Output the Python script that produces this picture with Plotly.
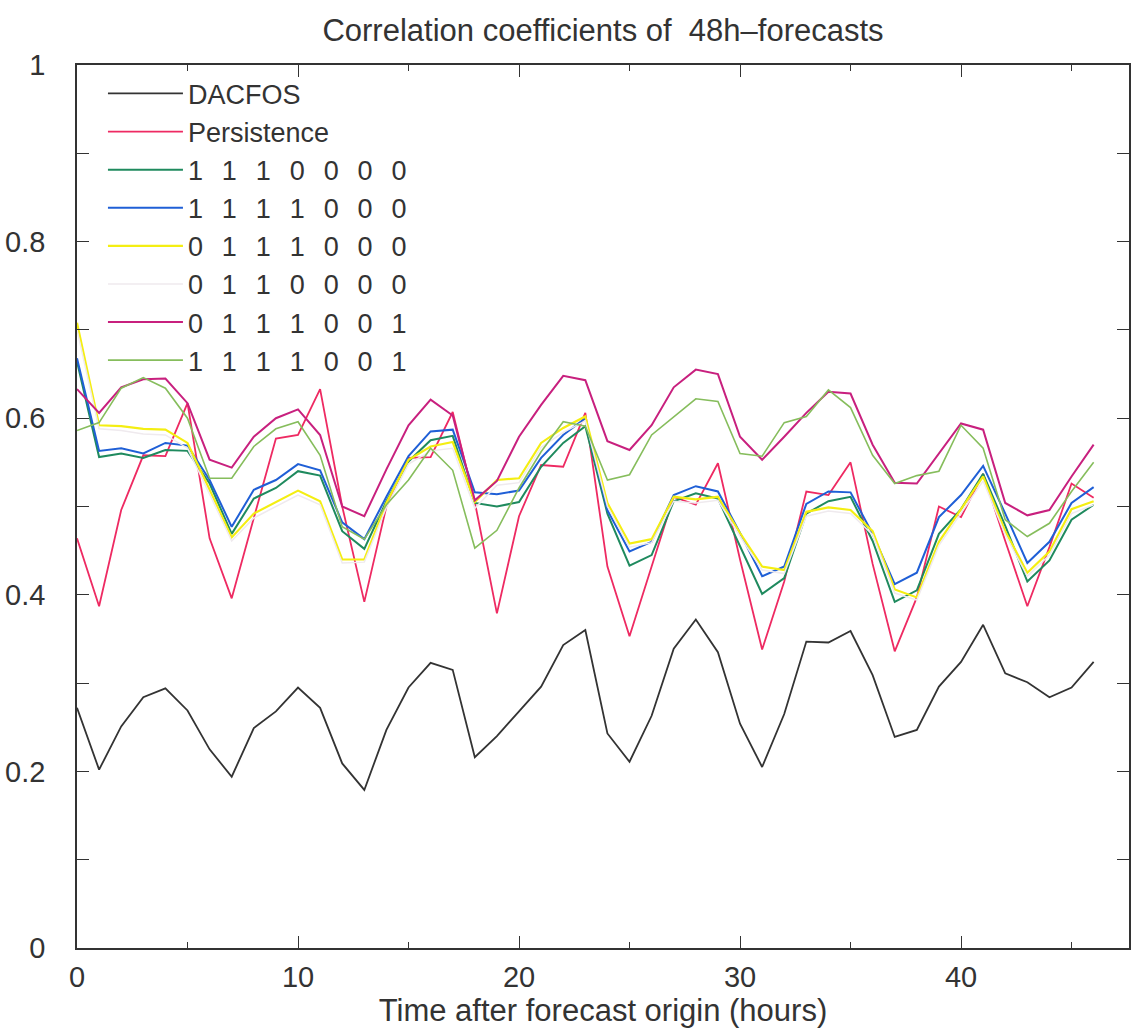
import plotly.graph_objects as go

hours = list(range(47))

dacfos = [0.272, 0.202, 0.251, 0.284, 0.294, 0.269, 0.225, 0.194, 0.249, 0.268,
          0.295, 0.272, 0.209, 0.179, 0.247, 0.295, 0.323, 0.315, 0.216, 0.240,
          0.268, 0.296, 0.343, 0.360, 0.243, 0.211, 0.263, 0.339, 0.372, 0.335,
          0.254, 0.205, 0.265, 0.347, 0.346, 0.359, 0.309, 0.239, 0.247, 0.296,
          0.324, 0.366, 0.311, 0.301, 0.284, 0.295, 0.324]

persistence = [0.464, 0.387, 0.496, 0.558, 0.557, 0.617, 0.464, 0.396, 0.487, 0.577,
               0.581, 0.633, 0.500, 0.392, 0.500, 0.555, 0.556, 0.607, 0.505, 0.379,
               0.489, 0.547, 0.545, 0.606, 0.432, 0.353, 0.432, 0.511, 0.502, 0.549,
               0.440, 0.338, 0.415, 0.517, 0.513, 0.550, 0.435, 0.336, 0.397, 0.500,
               0.488, 0.537, 0.461, 0.387, 0.454, 0.526, 0.510]

s_1110000 = [0.664, 0.556, 0.560, 0.555, 0.564, 0.563, 0.526, 0.469, 0.509, 0.521,
             0.540, 0.535, 0.472, 0.452, 0.506, 0.551, 0.575, 0.580, 0.504, 0.500,
             0.505, 0.545, 0.572, 0.591, 0.492, 0.433, 0.445, 0.506, 0.515, 0.509,
             0.455, 0.401, 0.419, 0.492, 0.506, 0.511, 0.461, 0.392, 0.405, 0.469,
             0.497, 0.537, 0.478, 0.415, 0.439, 0.485, 0.502]

s_1111000 = [0.668, 0.563, 0.566, 0.560, 0.572, 0.569, 0.530, 0.477, 0.519, 0.530,
             0.548, 0.541, 0.482, 0.463, 0.511, 0.557, 0.585, 0.587, 0.516, 0.514,
             0.518, 0.555, 0.581, 0.600, 0.496, 0.449, 0.460, 0.513, 0.523, 0.517,
             0.470, 0.421, 0.432, 0.503, 0.517, 0.516, 0.469, 0.412, 0.425, 0.488,
             0.513, 0.546, 0.492, 0.436, 0.460, 0.504, 0.522]

s_0111000 = [0.708, 0.592, 0.591, 0.588, 0.587, 0.572, 0.519, 0.465, 0.492, 0.505,
             0.518, 0.506, 0.440, 0.440, 0.504, 0.553, 0.568, 0.573, 0.505, 0.530,
             0.532, 0.572, 0.589, 0.602, 0.504, 0.458, 0.463, 0.511, 0.508, 0.511,
             0.470, 0.432, 0.428, 0.494, 0.499, 0.496, 0.472, 0.406, 0.397, 0.460,
             0.497, 0.534, 0.472, 0.425, 0.449, 0.497, 0.506]

s_0110000 = [0.700, 0.588, 0.586, 0.582, 0.581, 0.566, 0.514, 0.461, 0.487, 0.500,
             0.513, 0.502, 0.436, 0.437, 0.499, 0.548, 0.563, 0.566, 0.498, 0.524,
             0.527, 0.567, 0.584, 0.597, 0.500, 0.454, 0.459, 0.506, 0.504, 0.507,
             0.466, 0.428, 0.424, 0.489, 0.495, 0.492, 0.468, 0.402, 0.394, 0.456,
             0.492, 0.529, 0.468, 0.421, 0.445, 0.492, 0.502]

s_0111001 = [0.633, 0.606, 0.635, 0.644, 0.645, 0.617, 0.553, 0.544, 0.579, 0.600,
             0.610, 0.581, 0.500, 0.489, 0.542, 0.592, 0.621, 0.603, 0.507, 0.529,
             0.579, 0.615, 0.648, 0.643, 0.574, 0.564, 0.592, 0.635, 0.655, 0.650,
             0.579, 0.553, 0.579, 0.606, 0.630, 0.628, 0.570, 0.527, 0.526, 0.560,
             0.594, 0.587, 0.504, 0.490, 0.496, 0.534, 0.570]

s_1111001 = [0.586, 0.595, 0.634, 0.646, 0.634, 0.600, 0.532, 0.532, 0.568, 0.588,
             0.596, 0.558, 0.477, 0.463, 0.502, 0.530, 0.566, 0.541, 0.453, 0.473,
             0.521, 0.562, 0.596, 0.591, 0.530, 0.536, 0.581, 0.602, 0.622, 0.619,
             0.560, 0.557, 0.595, 0.602, 0.632, 0.612, 0.558, 0.526, 0.535, 0.540,
             0.592, 0.566, 0.485, 0.466, 0.481, 0.517, 0.550]

SP = "\u2002\u2009"
def code(s):
    return SP.join(list(s))

series = [
    ("DACFOS", dacfos, "#333333", 1.8),
    ("Persistence", persistence, "#ee2a62", 1.8),
    (code("1110000"), s_1110000, "#1f8a5e", 2.0),
    (code("1111000"), s_1111000, "#1f5fd6", 2.0),
    (code("0111000"), s_0111000, "#f4ee12", 2.2),
    (code("0110000"), s_0110000, "#efeaee", 1.5),
    (code("0111001"), s_0111001, "#c8207e", 2.0),
    (code("1111001"), s_1111001, "#86bd5c", 1.6),
]

fig = go.Figure()
for name, vals, color, w in series:
    fig.add_trace(go.Scatter(x=hours, y=vals, mode="lines", name=name,
                             line=dict(color=color, width=w)))

FONT = "Liberation Sans, Arial, Helvetica, sans-serif"
AX = "#333333"

fig.update_layout(
    width=1133, height=1032,
    margin=dict(l=77, r=2, t=65, b=84),
    paper_bgcolor="white", plot_bgcolor="white",
    font=dict(family=FONT, color=AX, size=29),
    title=dict(text="Correlation coefficients of \u00a048h\u2013forecasts",
               x=0.5, xref="paper", xanchor="center",
               y=1 - 30 / 1032, yref="container", yanchor="middle",
               font=dict(size=31, color=AX, family=FONT)),
    showlegend=True,
    legend=dict(x=(103 - 77) / 1054, xanchor="left", y=0.995, yanchor="top",
                bgcolor="rgba(0,0,0,0)", borderwidth=0,
                itemwidth=75,
                font=dict(size=27, color=AX, family=FONT),
                traceorder="normal"),
    xaxis=dict(range=[0, 47.6], dtick=10, tick0=0,
               showline=True, linecolor=AX, linewidth=1.5, mirror="ticks",
               ticks="inside", ticklen=12, tickwidth=1.2, tickcolor=AX,
               minor=dict(dtick=5, ticks="inside", ticklen=6, tickwidth=1.2, tickcolor=AX),
               showgrid=False, zeroline=False,
               tickfont=dict(size=29, color=AX),
               ticklabelstandoff=2,
               title=dict(text="Time after forecast origin (hours)",
                          font=dict(size=31, color=AX), standoff=0)),
    yaxis=dict(range=[0, 1], dtick=0.2, tick0=0,
               showline=True, linecolor=AX, linewidth=1.5, mirror="ticks",
               ticks="inside", ticklen=12, tickwidth=1.2, tickcolor=AX,
               minor=dict(dtick=0.1, ticks="inside", ticklen=12, tickwidth=1.2, tickcolor=AX),
               showgrid=False, zeroline=False,
               tickfont=dict(size=29, color=AX),
               ticklabelstandoff=24),
)

fig.write_html("out.html",
               config={"displayModeBar": False},
               post_script="document.body.style.margin='0';document.body.style.padding='0';")
